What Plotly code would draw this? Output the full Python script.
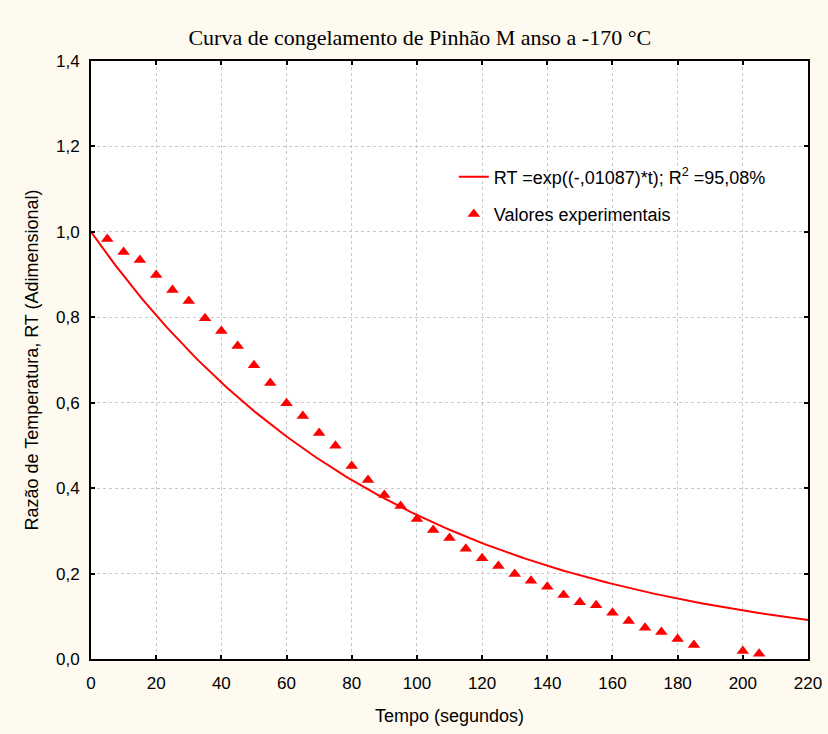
import numpy as np
import plotly.graph_objects as go

# Experimental data
tempo = [5, 10, 15, 20, 25, 30, 35, 40, 45, 50, 55, 60, 65, 70, 75, 80, 85, 90, 95,
         100, 105, 110, 115, 120, 125, 130, 135, 140, 145, 150, 155, 160, 165, 170,
         175, 180, 185, 200, 205]
rt_exp = [0.983, 0.953, 0.934, 0.899, 0.864, 0.838, 0.798, 0.768, 0.733, 0.688,
          0.646, 0.599, 0.569, 0.529, 0.499, 0.452, 0.419, 0.384, 0.358, 0.328,
          0.302, 0.283, 0.258, 0.236, 0.218, 0.199, 0.183, 0.169, 0.150, 0.133,
          0.126, 0.108, 0.089, 0.073, 0.063, 0.047, 0.033, 0.019, 0.012]

# Fitted model given in the legend: RT = exp(k*t)
k_fit = -0.01087
t_fit = np.linspace(0, 220, 221)
rt_fit = np.exp(k_fit * t_fit)

x_ticks = [0, 20, 40, 60, 80, 100, 120, 140, 160, 180, 200, 220]
y_ticks = [0.0, 0.2, 0.4, 0.6, 0.8, 1.0, 1.2, 1.4]

red = "#FF0000"
sans = "Liberation Sans, Arial"

fig = go.Figure()
fig.add_trace(go.Scatter(
    x=t_fit, y=rt_fit, mode="lines",
    line=dict(color=red, width=2),
    name="RT =exp((-,01087)*t); R<sup>2</sup> =95,08%",
    legendgroup="fit",
))
fig.add_trace(go.Scatter(
    x=tempo, y=rt_exp, mode="markers",
    marker=dict(symbol="triangle-up", size=11, color=red),
    name="Valores experimentais",
    legendgroup="exp",
))

axis_common = dict(
    showline=True, linecolor="black", linewidth=2, mirror="allticks",
    ticks="inside", ticklen=4, tickcolor="black", tickwidth=2,
    showgrid=True, gridcolor="#C8C8C8", griddash="dot", gridwidth=1,
    zeroline=False, automargin=False,
    tickfont=dict(family=sans, size=17, color="black"),
)

fig.update_layout(
    width=828, height=734,
    paper_bgcolor="#FEFAF0",
    plot_bgcolor="white",
    separators=", ",
    margin=dict(l=91, r=20, t=61, b=75),
    title=dict(
        text="Curva de congelamento de Pinhão M anso a -170 °C",
        x=0.507, xref="container", xanchor="center",
        y=1 - 37 / 734, yanchor="middle",
        font=dict(family="Liberation Serif, Times New Roman", size=22, color="black"),
    ),
    xaxis=dict(
        range=[0, 220], tickvals=x_ticks, ticklabelstandoff=8,
        title=dict(text="Tempo (segundos)", standoff=17,
                   font=dict(family=sans, size=18, color="black")),
        **axis_common,
    ),
    yaxis=dict(
        range=[0, 1.4], tickvals=y_ticks, tickformat=".1f", ticklabelstandoff=6,
        title=dict(text="Razão de Temperatura, RT (Adimensional)", standoff=13,
                   font=dict(family=sans, size=18, color="black")),
        **axis_common,
    ),
    legend=dict(
        x=0.506, y=0.837, xanchor="left", yanchor="top",
        bgcolor="rgba(0,0,0,0)", borderwidth=0,
        font=dict(family=sans, size=18, color="black"),
        traceorder="grouped", tracegroupgap=11, itemwidth=30,
    ),
    showlegend=True,
)

fig.write_html("out.html", config={"displayModeBar": False},
               post_script="document.body.style.margin='0';")
